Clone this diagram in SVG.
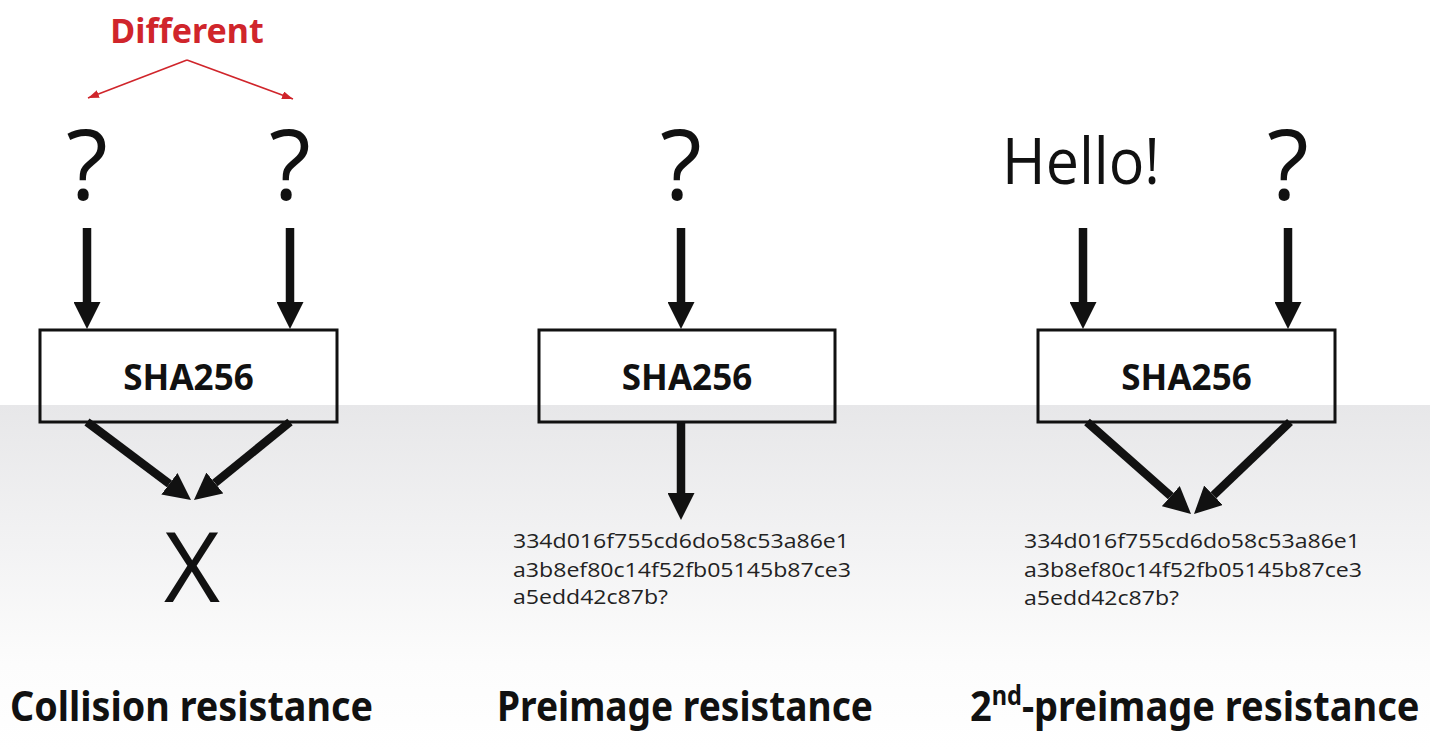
<svg xmlns="http://www.w3.org/2000/svg" width="1430" height="750" viewBox="0 0 1430 750">
<style>
.box{fill:none;stroke:#111;stroke-width:3}
.lbl{font-family:"Noto Sans","Open Sans",sans-serif;font-weight:700;font-size:35px;fill:#111;text-anchor:middle}
.big{font-family:"Open Sans","Noto Sans",sans-serif;font-weight:400;font-size:97px;fill:#111;text-anchor:middle}
.hello{font-family:"Open Sans","Noto Sans",sans-serif;font-weight:400;font-size:64px;fill:#111}
.hash{font-family:"Open Sans","Noto Sans",sans-serif;font-size:20.5px;fill:#222}
.title{font-family:"Noto Sans","Open Sans",sans-serif;font-weight:700;font-size:42px;fill:#111}
.diff{font-family:"Noto Sans","Open Sans",sans-serif;font-weight:700;font-size:34px;fill:#d0252b;text-anchor:middle}
.arr{stroke:#111;stroke-width:8.5;fill:none;marker-end:url(#ah)}
.red{stroke:#d0252b;stroke-width:1.6;fill:none;marker-end:url(#rh)}
</style>
<defs>
<linearGradient id="bg" x1="0" y1="0" x2="0" y2="1">
<stop offset="0" stop-color="#e7e7e9"/>
<stop offset="0.75" stop-color="#fcfcfc"/>
<stop offset="1" stop-color="#ffffff"/>
</linearGradient>
<marker id="ah" viewBox="0 0 27 27" refX="0" refY="13.5" markerWidth="27" markerHeight="27" markerUnits="userSpaceOnUse" orient="auto">
<path d="M0,0 L27,13.5 L0,27 Z" fill="#111"/>
</marker>
<marker id="rh" viewBox="0 0 11 8" refX="11" refY="4" markerWidth="11" markerHeight="8" markerUnits="userSpaceOnUse" orient="auto">
<path d="M0,0 L11,4 L0,8 Z" fill="#d0252b"/>
</marker>
</defs>
<rect x="0" y="0" width="1430" height="750" fill="#ffffff"/>
<rect x="0" y="405" width="1430" height="345" fill="url(#bg)"/>

<g id="connectors">
<line class="red" x1="187" y1="60" x2="88" y2="98"/>
<line class="red" x1="187" y1="60" x2="293" y2="99"/>
<line class="arr" x1="87" y1="228" x2="87" y2="302"/>
<line class="arr" x1="290" y1="228" x2="290" y2="302"/>
<line class="arr" x1="681" y1="228" x2="681" y2="302"/>
<line class="arr" x1="1083" y1="228" x2="1083" y2="302"/>
<line class="arr" x1="1288" y1="228" x2="1288" y2="302"/>
<line class="arr" x1="87" y1="422" x2="169.4" y2="483.8"/>
<line class="arr" x1="290" y1="422" x2="214.9" y2="483"/>
<line class="arr" x1="681" y1="422" x2="681" y2="493"/>
<line class="arr" x1="1087" y1="422" x2="1170.8" y2="496.1"/>
<line class="arr" x1="1290" y1="422" x2="1213.5" y2="495.3"/>
</g>

<g id="different"><text class="diff" x="187" y="43">Different</text></g>

<g id="col1-in1"><text class="big" x="87" y="200">?</text></g>
<g id="col1-in2"><text class="big" x="290" y="200">?</text></g>
<g id="col1-sha"><rect class="box" x="40" y="330" width="297" height="92"/><text class="lbl" x="188.5" y="390">SHA256</text></g>
<g id="col1-out"><text class="big" x="192" y="602">X</text></g>
<g id="col1-title"><text class="title" x="10" y="721" textLength="363" lengthAdjust="spacingAndGlyphs">Collision resistance</text></g>

<g id="col2-in"><text class="big" x="681" y="200">?</text></g>
<g id="col2-sha"><rect class="box" x="539" y="330" width="296" height="92"/><text class="lbl" x="687" y="390">SHA256</text></g>
<g id="col2-out">
<text class="hash" x="513" y="548" textLength="336" lengthAdjust="spacingAndGlyphs">334d016f755cd6do58c53a86e1</text>
<text class="hash" x="513" y="577" textLength="338" lengthAdjust="spacingAndGlyphs">a3b8ef80c14f52fb05145b87ce3</text>
<text class="hash" x="513" y="604" textLength="155" lengthAdjust="spacingAndGlyphs">a5edd42c87b?</text>
</g>
<g id="col2-title"><text class="title" x="497" y="721" textLength="376" lengthAdjust="spacingAndGlyphs">Preimage resistance</text></g>

<g id="col3-in1"><text class="hello" x="1002" y="184" textLength="158" lengthAdjust="spacingAndGlyphs">Hello!</text></g>
<g id="col3-in2"><text class="big" x="1288" y="200">?</text></g>
<g id="col3-sha"><rect class="box" x="1038" y="330" width="297" height="92"/><text class="lbl" x="1186.5" y="390">SHA256</text></g>
<g id="col3-out">
<text class="hash" x="1024" y="548" textLength="336" lengthAdjust="spacingAndGlyphs">334d016f755cd6do58c53a86e1</text>
<text class="hash" x="1024" y="577" textLength="338" lengthAdjust="spacingAndGlyphs">a3b8ef80c14f52fb05145b87ce3</text>
<text class="hash" x="1024" y="605" textLength="155" lengthAdjust="spacingAndGlyphs">a5edd42c87b?</text>
</g>
<g id="col3-title" transform="translate(970,721) scale(0.905,1)"><text class="title" x="0" y="0">2<tspan font-size="26" dy="-16">nd</tspan><tspan dy="16">-preimage resistance</tspan></text></g>
</svg>
